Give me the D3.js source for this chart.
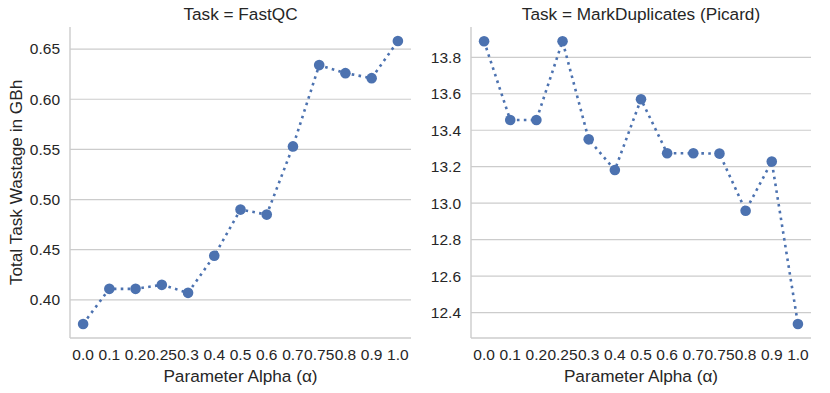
<!DOCTYPE html>
<html>
<head>
<meta charset="utf-8">
<script src="https://cdn.jsdelivr.net/npm/d3@7"></script>
<style>
  body { margin: 0; background: #fff; }
  svg { display: block; font-family: "Liberation Sans", Arial, sans-serif; }
</style>
</head>
<body>
<div id="chart"></div>
<script>
// alpha categories shared by both facets
var alphas = ["0.0", "0.1", "0.2", "0.25", "0.3", "0.4", "0.5", "0.6", "0.7", "0.75", "0.8", "0.9", "1.0"];
var fastqc = [0.376, 0.411, 0.411, 0.415, 0.407, 0.444, 0.490, 0.485, 0.553, 0.634, 0.626, 0.621, 0.658];
var markdup = [13.888, 13.456, 13.456, 13.888, 13.350, 13.182, 13.570, 13.274, 13.274, 13.272, 12.959, 13.228, 12.338];
var fastqcTicks = [0.40, 0.45, 0.50, 0.55, 0.60, 0.65];
var markdupTicks = [12.4, 12.6, 12.8, 13.0, 13.2, 13.4, 13.6, 13.8];

var W = 830, H = 393;
var svg = d3.select("#chart").append("svg").attr("width", W).attr("height", H);
var ink = "#262626", grid = "#cccccc", blue = "#4c72b0";

var panels = [
  { title: "Task = FastQC", vals: fastqc, ticks: fastqcTicks, fmt: d3.format(".2f"),
    x0: 70, x1: 411, dom: [0.362, 0.672] },
  { title: "Task = MarkDuplicates (Picard)", vals: markdup, ticks: markdupTicks, fmt: d3.format(".1f"),
    x0: 471, x1: 811, dom: [12.261, 13.966] }
];
var yTop = 27, yBot = 338;

panels.forEach(function (p) {
  var x = d3.scalePoint().domain(alphas).range([p.x0, p.x1]).padding(0.5);
  var y = d3.scaleLinear().domain(p.dom).range([yBot, yTop]);
  var g = svg.append("g");

  // horizontal grid
  g.selectAll("line.grid").data(p.ticks).enter().append("line")
    .attr("x1", p.x0).attr("x2", p.x1)
    .attr("y1", function (d) { return y(d); }).attr("y2", function (d) { return y(d); })
    .attr("stroke", grid).attr("stroke-width", 1.2);

  // spines
  g.append("line").attr("x1", p.x0).attr("x2", p.x0).attr("y1", yTop).attr("y2", yBot)
    .attr("stroke", grid).attr("stroke-width", 1.4);
  g.append("line").attr("x1", p.x0).attr("x2", p.x1).attr("y1", yBot).attr("y2", yBot)
    .attr("stroke", grid).attr("stroke-width", 1.4);

  // y ticks
  g.selectAll("text.yt").data(p.ticks).enter().append("text")
    .attr("x", p.x0 - 10).attr("y", function (d) { return y(d); }).attr("dy", "0.35em")
    .attr("text-anchor", "end").attr("fill", ink).attr("font-size", 15.5)
    .text(p.fmt);

  // x ticks
  g.selectAll("text.xt").data(alphas).enter().append("text")
    .attr("x", function (d) { return x(d); }).attr("y", 360)
    .attr("text-anchor", "middle").attr("fill", ink).attr("font-size", 15.5)
    .text(function (d) { return d; });

  g.append("text").attr("x", (p.x0 + p.x1) / 2).attr("y", 382)
    .attr("text-anchor", "middle").attr("fill", ink).attr("font-size", 17.2)
    .text("Parameter Alpha (α)");
  g.append("text").attr("x", (p.x0 + p.x1) / 2).attr("y", 20)
    .attr("text-anchor", "middle").attr("fill", ink).attr("font-size", 17.2)
    .text(p.title);

  var line = d3.line().x(function (d, i) { return x(alphas[i]); }).y(function (d) { return y(d); });
  g.append("path").attr("d", line(p.vals)).attr("fill", "none").attr("stroke", blue)
    .attr("stroke-width", 2.6).attr("stroke-dasharray", "2.6 4.3");
  g.selectAll("circle").data(p.vals).enter().append("circle")
    .attr("cx", function (d, i) { return x(alphas[i]); }).attr("cy", function (d) { return y(d); })
    .attr("r", 5.3).attr("fill", blue);
});

svg.append("text").attr("transform", "translate(22," + (yTop + yBot) / 2 + ") rotate(-90)")
  .attr("text-anchor", "middle").attr("fill", ink).attr("font-size", 17.2)
  .text("Total Task Wastage in GBh");
</script>
</body>
</html>
